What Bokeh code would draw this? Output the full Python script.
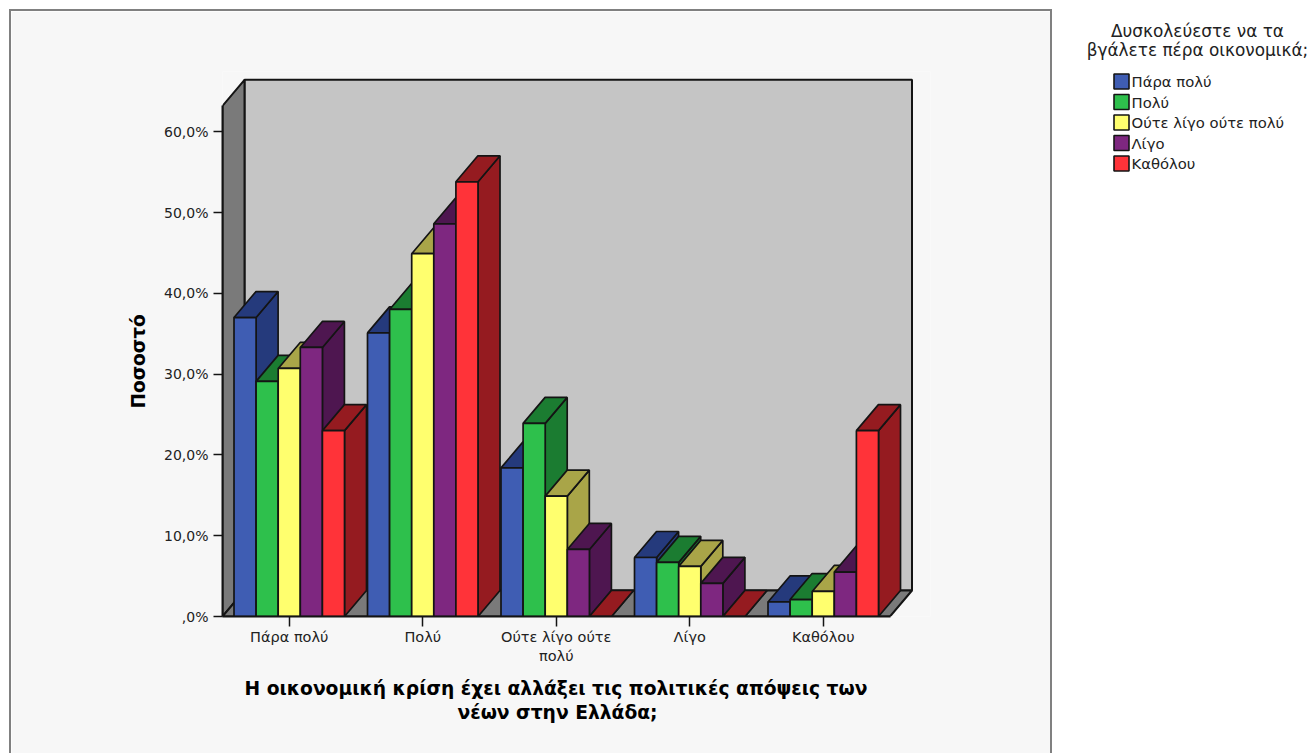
from bokeh.plotting import figure
from bokeh.layouts import row
from bokeh.models import ColumnDataSource, FixedTicker, Range1d, Title
from bokeh.core.properties import value
from bokeh.embed import file_html
from bokeh.resources import INLINE

categories = ["Πάρα πολύ", "Πολύ", "Ούτε λίγο ούτε\nπολύ", "Λίγο", "Καθόλου"]
series_names = ["Πάρα πολύ", "Πολύ", "Ούτε λίγο ούτε πολύ", "Λίγο", "Καθόλου"]
para_poly = [37.0, 35.1, 18.4, 7.3, 1.8]
poly = [29.1, 38.0, 23.9, 6.7, 2.1]
oute = [30.7, 44.9, 14.9, 6.2, 3.1]
ligo = [33.3, 48.6, 8.3, 4.1, 5.5]
katholou = [23.0, 53.8, 0.0, 0.0, 23.0]
series = [para_poly, poly, oute, ligo, katholou]
front_colors = ["#3F5DB3", "#2EC04C", "#FFFF6E", "#7E2780", "#FF3339"]
side_colors = ["#253A7C", "#1B7C31", "#A9A548", "#4E1650", "#951B20"]
y_ticks = [0, 10, 20, 30, 40, 50, 60]
y_labels = {0: ",0%", 10: "10,0%", 20: "20,0%", 30: "30,0%", 40: "40,0%", 50: "50,0%", 60: "60,0%"}
legend_title = ["Δυσκολεύεστε να τα", "βγάλετε πέρα οικονομικά;"]
x_title = ["Η οικονομική κρίση έχει αλλάξει τις πολιτικές απόψεις των", "νέων στην Ελλάδα;"]
y_title = "Ποσοστό"

PX_X, PX_Y = 133.5, 8.08          # pixels per category, pixels per percent
DX, DY = 22 / PX_X, 26 / PX_Y     # 3D depth in data units
BAR = 22.1 / PX_X
Y_TOP = 63.2
X0, X1 = -0.5, 4.5
L, R, T, B = 211, 124, 60, 139
frame_w, frame_h = 708, 545       # drawn size of the plot frame

PANEL = "#F7F7F7"
LINE = "#141414"
TEXT = "#222222"
FONT = "DejaVu Sans"

p = figure(frame_width=frame_w - 4, frame_height=frame_h - 2, output_backend="svg", toolbar_location=None,
           x_range=Range1d(X0, X0 + frame_w / PX_X), y_range=Range1d(0, frame_h / PX_Y),
           min_border_left=L, min_border_right=R, min_border_top=T, min_border_bottom=B,
           background_fill_color=PANEL, border_fill_color=PANEL, outline_line_color=None,
           frame_align=False)
p.styles = {"border-left": "2px solid #808080", "border-right": "2px solid #808080",
            "border-top": "2px solid #808080"}
p.grid.visible = False

# walls and floor
p.patches(xs=[[X0 + DX, X1 + DX, X1 + DX, X0 + DX],
              [X0, X0 + DX, X0 + DX, X0],
              [X0, X1, X1 + DX, X0 + DX]],
          ys=[[DY, DY, Y_TOP + DY, Y_TOP + DY],
              [0, DY, Y_TOP + DY, Y_TOP],
              [0, 0, DY, DY]],
          fill_color=["#C5C5C5", "#7A7A7A", "#7A7A7A"], line_color=LINE, line_width=2)

# bars, painted left to right
xs, ys, colors = [], [], []
n = len(series)
for g in range(len(categories)):
    for s in range(n):
        v = series[s][g]
        a = g + (s - n / 2) * BAR
        b = a + BAR
        xs += [[b, b + DX, b + DX, b], [a, b, b + DX, a + DX], [a, b, b, a]]
        ys += [[0, DY, v + DY, v], [v, v, v + DY, v + DY], [0, 0, v, v]]
        colors += [side_colors[s], side_colors[s], front_colors[s]]
p.patches(xs="xs", ys="ys", fill_color="c", line_color=LINE, line_width=1.7,
          source=ColumnDataSource(dict(xs=xs, ys=ys, c=colors)))

ya = p.yaxis[0]
ya.ticker = FixedTicker(ticks=y_ticks)
ya.major_label_overrides = y_labels
ya.bounds = (0, Y_TOP)
ya.axis_line_width = 2
ya.axis_line_color = LINE
ya.major_tick_line_color = LINE
ya.major_tick_line_width = 1.5
ya.major_tick_out = 9
ya.major_tick_in = 0
ya.minor_tick_line_color = None
ya.major_label_text_font = FONT
ya.major_label_text_font_size = "14px"
ya.major_label_text_color = TEXT
ya.major_label_standoff = 5

xa = p.xaxis[0]
xa.ticker = FixedTicker(ticks=list(range(len(categories))))
xa.major_label_overrides = {i: c for i, c in enumerate(categories)}
xa.bounds = (X0, X1)
xa.axis_line_width = 2
xa.axis_line_color = LINE
xa.major_tick_line_color = LINE
xa.major_tick_line_width = 1.5
xa.major_tick_out = 10
xa.major_tick_in = 0
xa.minor_tick_line_color = None
xa.major_label_text_font = FONT
xa.major_label_text_font_size = "14.5px"
xa.major_label_text_color = TEXT
xa.major_label_standoff = 2

# axis titles, positioned on the drawn axes rather than on the frame
p.add_layout(Title(text=y_title, align="left", offset=208, standoff=26, text_font=FONT,
                   text_font_style="bold", text_font_size="18.5px", text_color="#000000"), "left")
p.add_layout(Title(text=x_title[0], align="left", offset=22, standoff=22, vertical_align="top", text_font=FONT,
                   text_font_style="bold", text_font_size="18.7px", text_color="#000000"), "below")
p.add_layout(Title(text=x_title[1], align="left", offset=235, standoff=-20, vertical_align="top", text_font=FONT,
                   text_font_style="bold", text_font_size="18.7px", text_color="#000000"), "below")

# legend panel
QW, QH = 255, 746
q = figure(width=QW, height=QH, output_backend="svg", toolbar_location=None,
           x_range=Range1d(0, QW), y_range=Range1d(QH, 0), frame_align=False,
           min_border=0, outline_line_color=None, background_fill_color="#FFFFFF", border_fill_color="#FFFFFF")
q.axis.visible = False
q.grid.visible = False
q.text(x=[145, 145], y=[21, 40], text=legend_title, text_align="center", text_baseline="middle",
       text_font=value(FONT), text_font_size="16.9px", text_color=TEXT)
ly = [72 + i * 20.5 for i in range(n)]
q.rect(x=[69] * n, y=ly, width=15, height=15, fill_color=front_colors, line_color=LINE, line_width=1.6)
q.text(x=[79] * n, y=ly, text=series_names, text_align="left", text_baseline="middle",
       text_font=value(FONT), text_font_size="14.8px", text_color=TEXT)

layout = row(p, q, spacing=0, margin=(9, 0, 0, 9))
open("out.html", "w").write(file_html(layout, INLINE))
